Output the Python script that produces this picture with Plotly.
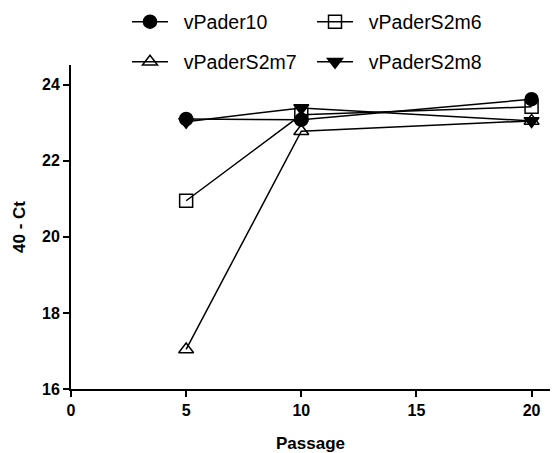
import plotly.graph_objects as go

passage = [5, 10, 20]
vPader10 = [23.10, 23.08, 23.62]
vPaderS2m6 = [20.95, 23.21, 23.42]
vPaderS2m7 = [17.04, 22.78, 23.05]
vPaderS2m8 = [23.03, 23.39, 23.05]

# name, values, symbol, legend id, legend position (container px x, y)
series = [
    ("vPader10", vPader10, "circle", "legend2", (127, 22)),
    ("vPaderS2m6", vPaderS2m6, "square-open", "legend3", (312, 22)),
    ("vPaderS2m7", vPaderS2m7, "triangle-up-open", "legend4", (127, 62)),
    ("vPaderS2m8", vPaderS2m8, "triangle-down", "legend5", (312, 62)),
]

W, H = 552, 453
ML, MR, MT, MB = 71, 2, 65, 64
PW, PH = W - ML - MR, H - MT - MB
font = "Liberation Sans, Arial, sans-serif"
pad = "\u00a0\u00a0"

fig = go.Figure()
legends = {}
for name, vals, sym, lg, (lx, ly) in series:
    fig.add_trace(go.Scatter(
        x=passage, y=vals, name=pad + name, mode="lines+markers",
        line=dict(color="black", width=1.5),
        marker=dict(symbol=sym, size=13, color="black", line=dict(color="black", width=1.5)),
        legend=lg, cliponaxis=False,
    ))
    legends[lg] = dict(xref="container", yref="container", x=lx / W, y=1 - ly / H,
                       xanchor="left", yanchor="middle", font=dict(size=19.5, family=font),
                       itemwidth=36, bgcolor="rgba(0,0,0,0)", borderwidth=0)

fig.update_layout(
    width=W, height=H,
    margin=dict(l=ML, r=MR, t=MT, b=MB, autoexpand=False),
    plot_bgcolor="white", paper_bgcolor="white",
    font=dict(family=font, color="black"),
    xaxis=dict(range=[0, 20.8], tickvals=[0, 5, 10, 15, 20], showgrid=False, zeroline=False,
               showline=True, linecolor="black", linewidth=2, ticks="outside", ticklen=6,
               tickwidth=2, tickcolor="black",
               tickfont=dict(size=16, family=font, weight="bold")),
    yaxis=dict(range=[16, 24.52], tickvals=[16, 18, 20, 22, 24], showgrid=False, zeroline=False,
               showline=True, linecolor="black", linewidth=2, ticks="outside", ticklen=6,
               tickwidth=2, tickcolor="black",
               tickfont=dict(size=16, family=font, weight="bold")),
    annotations=[
        dict(text="<b>Passage</b>", xref="paper", yref="paper", x=0.5, y=(H - MB - 443) / PH,
             xanchor="center", yanchor="middle", showarrow=False, font=dict(size=17, family=font)),
        dict(text="<b>40 - Ct</b>", xref="paper", yref="paper", x=(19 - ML) / PW, y=0.5,
             xanchor="center", yanchor="middle", textangle=-90, showarrow=False,
             font=dict(size=17, family=font)),
    ],
    **legends,
)

fig.write_html("out.html")
